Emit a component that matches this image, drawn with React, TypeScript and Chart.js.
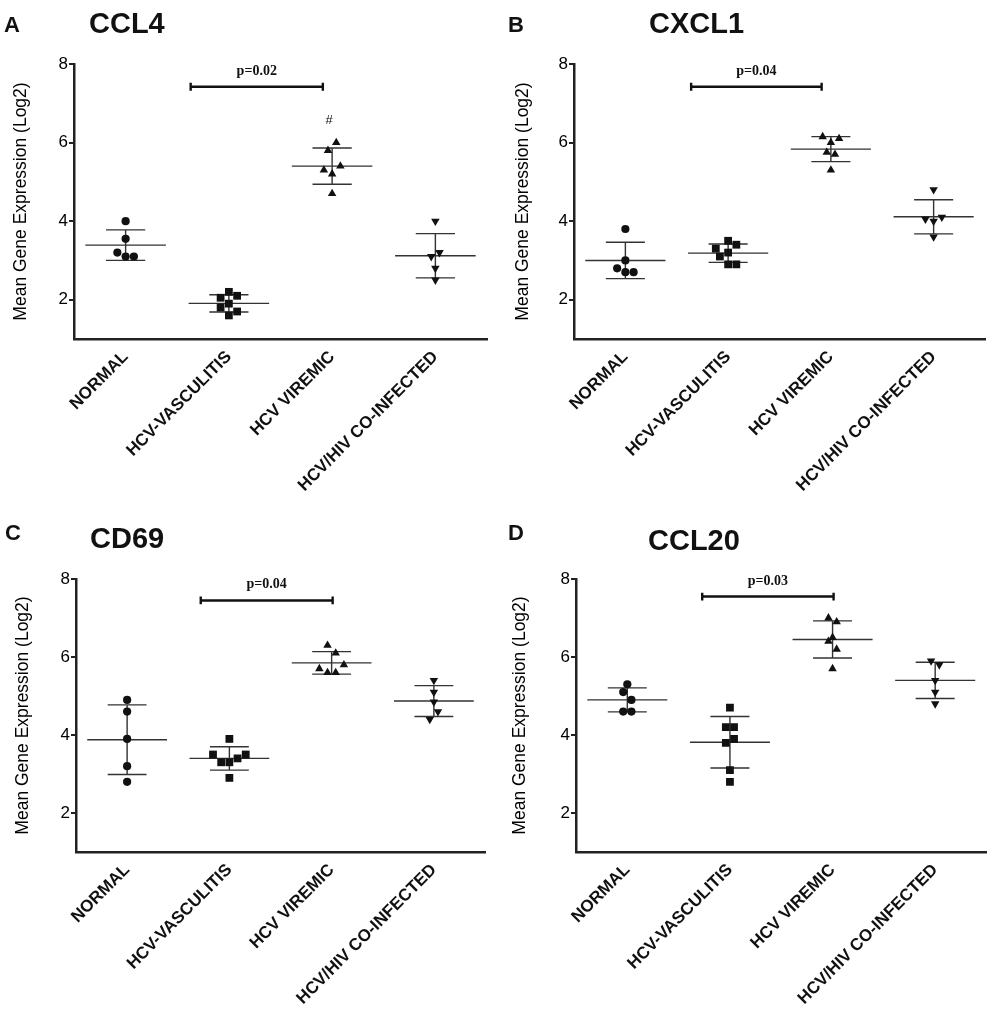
import { useEffect, useRef } from "react"
import { Chart, registerables } from "chart.js"

Chart.register(...registerables)

const categories = ["NORMAL", "HCV-VASCULITIS", "HCV VIREMIC", "HCV/HIV CO-INFECTED"]
const yTicks = [2, 4, 6, 8]

// CCL4
const ccl4Normal = [4.0, 3.55, 3.2, 3.1, 3.1]
const ccl4Vasculitis = [2.2, 2.05, 2.1, 1.9, 1.8, 1.7, 1.6]
const ccl4Viremic = [6.0, 5.8, 5.4, 5.3, 5.2, 4.7]
const ccl4Coinfected = [4.0, 3.2, 3.1, 2.8, 2.5]
const ccl4Jitter = [[0, 0, -1, 0, 1], [0, -1, 1, 0, -1, 1, 0], [0.5, -0.5, 1, -1, 0, 0], [0, 0.5, -0.5, 0, 0]]

// CXCL1
const cxcl1Normal = [3.8, 3.0, 2.8, 2.7, 2.7]
const cxcl1Vasculitis = [3.5, 3.4, 3.3, 3.2, 3.1, 2.9, 2.9]
const cxcl1Viremic = [6.15, 6.1, 6.0, 5.75, 5.7, 5.3]
const cxcl1Coinfected = [4.8, 4.05, 4.0, 4.1, 3.6]
const cxcl1Jitter = [[0, 0, -1, 0, 1], [0, 1, -1.5, 0, -1, 0, 1], [-1, 1, 0, -0.5, 0.5, 0], [0, -1, 0, 1, 0]]

// CD69
const cd69Normal = [4.9, 4.6, 3.9, 3.2, 2.8]
const cd69Vasculitis = [3.9, 3.5, 3.5, 3.4, 3.3, 3.3, 2.9]
const cd69Viremic = [6.3, 6.1, 5.8, 5.7, 5.6, 5.6]
const cd69Coinfected = [5.4, 5.1, 4.85, 4.6, 4.4]
const cd69Jitter = [[0, 0, 0, 0, 0], [0, -2, 2, 1, -1, 0, 0], [-0.5, 0.5, 1.5, -1.5, -0.5, 0.5], [0, 0, 0, 0.5, -0.5]]

// CCL20
const ccl20Normal = [5.3, 5.1, 4.9, 4.6, 4.6]
const ccl20Vasculitis = [4.7, 4.2, 4.2, 3.9, 3.8, 3.1, 2.8]
const ccl20Viremic = [7.0, 6.9, 6.5, 6.4, 6.2, 5.7]
const ccl20Coinfected = [5.9, 5.8, 5.4, 5.1, 4.8]
const ccl20Jitter = [[0, -0.5, 0.5, -0.5, 0.5], [0, -0.5, 0.5, 0.5, -0.5, 0, 0], [-0.5, 0.5, 0, -0.5, 0.5, 0], [-0.5, 0.5, 0, 0, 0]]

// significance brackets (x in category units, y in log2)
const ccl4Bracket = { x1: 0.63, x2: 1.91, y: 7.42, labelY: 7.8, label: "p=0.02" }
const cxcl1Bracket = { x1: 0.64, x2: 1.91, y: 7.42, labelY: 7.82, label: "p=0.04" }
const cd69Bracket = { x1: 0.72, x2: 2.01, y: 7.45, labelY: 7.85, label: "p=0.04" }
const ccl20Bracket = { x1: 0.73, x2: 2.01, y: 7.55, labelY: 7.94, label: "p=0.03" }

const JITTER_STEP = 0.08
const MEAN_HALF = 0.39
const CAP_HALF = 0.19
const INK = "#111"

const markers = [
  { style: "circle", radius: 4.1, rotation: 0 },
  { style: "rect", radius: 5.5, rotation: 0 },
  { style: "triangle", radius: 4.9, rotation: 0 },
  { style: "triangle", radius: 4.9, rotation: 180 },
]

interface Bracket {
  x1: number
  x2: number
  y: number
  labelY: number
  label: string
}

interface PanelProps {
  letter: string
  title: string
  groups: number[][]
  jitter: number[][]
  bracket: Bracket
  hash?: boolean
  left: number
  top: number
  width: number
  height: number
  area: { left: number; top: number; right: number; bottom: number }
  yTitleCenter: number
  letterPos: { left: number; top: number }
  titlePos: { left: number; top: number }
}

function meanSd(values: number[]) {
  const m = values.reduce((a, b) => a + b, 0) / values.length
  const v = values.reduce((a, b) => a + (b - m) * (b - m), 0) / (values.length - 1)
  return { m, s: Math.sqrt(v) }
}

function Panel(p: PanelProps) {
  const chartRef = useRef<HTMLCanvasElement | null>(null)
  const chartInstance = useRef<Chart | null>(null)

  useEffect(() => {
    if (!chartRef.current) return
    if (chartInstance.current) chartInstance.current.destroy()
    const ctx = chartRef.current.getContext("2d")
    if (!ctx) return

    const pointSets = p.groups.map((vals, i) => ({
      data: vals.map((v, k) => ({ x: i + p.jitter[i][k] * JITTER_STEP, y: v })),
      pointStyle: markers[i].style,
      pointRadius: markers[i].radius,
      pointRotation: markers[i].rotation,
      backgroundColor: INK,
      borderColor: INK,
      borderWidth: 0,
      showLine: false,
    }))

    // mean +/- SD lines
    const statLine: { x: number; y: number | null }[] = []
    p.groups.forEach((vals, i) => {
      const { m, s } = meanSd(vals)
      statLine.push(
        { x: i - MEAN_HALF, y: m }, { x: i + MEAN_HALF, y: m }, { x: i, y: null },
        { x: i - CAP_HALF, y: m + s }, { x: i + CAP_HALF, y: m + s }, { x: i, y: null },
        { x: i - CAP_HALF, y: m - s }, { x: i + CAP_HALF, y: m - s }, { x: i, y: null },
        { x: i, y: m - s }, { x: i, y: m + s }, { x: i, y: null },
      )
    })

    const b = p.bracket
    const tick = 0.1
    const bracketLine = [
      { x: b.x1, y: b.y - tick }, { x: b.x1, y: b.y + tick }, { x: b.x1, y: null },
      { x: b.x1, y: b.y }, { x: b.x2, y: b.y }, { x: b.x2, y: null },
      { x: b.x2, y: b.y - tick }, { x: b.x2, y: b.y + tick },
    ]

    const texts = [{ text: b.label, x: (b.x1 + b.x2) / 2, y: b.labelY, font: "bold 14px 'Liberation Serif', 'DejaVu Serif', serif" }]
    if (p.hash) texts.push({ text: "#", x: 1.97, y: 6.56, font: "13px 'Liberation Sans', Arial, sans-serif" })

    const textPlugin = {
      id: "panelText",
      afterDatasetsDraw(chart: Chart) {
        const c = chart.ctx
        const xs = chart.scales.x
        const ys = chart.scales.y
        c.save()
        c.fillStyle = INK
        c.textAlign = "center"
        c.textBaseline = "middle"
        for (const t of texts) {
          c.font = t.font
          c.fillText(t.text, xs.getPixelForValue(t.x), ys.getPixelForValue(t.y))
        }
        c.restore()
      },
    }

    const a = p.area
    chartInstance.current = new Chart(ctx, {
      type: "scatter",
      data: {
        datasets: [
          ...pointSets,
          {
            data: statLine,
            showLine: true,
            spanGaps: false,
            borderColor: "#333",
            borderWidth: 1.4,
            pointRadius: 0,
          },
          {
            data: bracketLine,
            showLine: true,
            spanGaps: false,
            borderColor: INK,
            borderWidth: 2.4,
            pointRadius: 0,
          },
        ] as any,
      },
      options: {
        responsive: false,
        animation: false,
        layout: { padding: { left: 0, top: a.top, right: p.width - a.right, bottom: 0 } },
        plugins: { legend: { display: false }, tooltip: { enabled: false } },
        scales: {
          x: {
            type: "linear",
            min: -0.5,
            max: 3.5,
            afterBuildTicks: (s: any) => {
              s.ticks = categories.map((_, i) => ({ value: i }))
            },
            afterFit: (s: any) => {
              s.height = p.height - a.bottom
            },
            grid: { display: false, drawTicks: false },
            border: { color: "#222", width: 2.5 },
            ticks: {
              autoSkip: false,
              minRotation: 45,
              maxRotation: 45,
              padding: 8,
              color: INK,
              font: { family: "'Liberation Sans', Arial, sans-serif", size: 17, weight: "bold" },
              callback: (v: any) => categories[v as number] ?? "",
            },
          },
          y: {
            min: 1,
            max: 8,
            afterBuildTicks: (s: any) => {
              s.ticks = yTicks.map((v) => ({ value: v }))
            },
            afterFit: (s: any) => {
              s.width = a.left
            },
            grid: { drawOnChartArea: false, drawTicks: true, tickLength: 5, color: "#222", lineWidth: 2 },
            border: { color: "#222", width: 2.5 },
            ticks: {
              padding: 1,
              color: "#000",
              font: { family: "'Liberation Sans', Arial, sans-serif", size: 17 },
            },
            title: {
              display: true,
              text: "Mean Gene Expression (Log2)",
              color: "#000",
              font: { family: "'Liberation Sans', Arial, sans-serif", size: 17.5 },
              padding: { top: p.yTitleCenter - 10.5, bottom: 0 },
            },
          },
        },
      },
      plugins: [textPlugin],
    })

    return () => {
      if (chartInstance.current) {
        chartInstance.current.destroy()
        chartInstance.current = null
      }
    }
  }, [p])

  return (
    <div style={{ position: "absolute", left: p.left, top: p.top, width: p.width, height: p.height }}>
      <canvas ref={chartRef} width={p.width} height={p.height} style={{ width: p.width, height: p.height, display: "block" }} />
      <div
        style={{
          position: "absolute",
          left: p.letterPos.left,
          top: p.letterPos.top,
          font: "bold 22px 'Liberation Sans', Arial, sans-serif",
          lineHeight: "22px",
          color: INK,
        }}
      >
        {p.letter}
      </div>
      <div
        style={{
          position: "absolute",
          left: p.titlePos.left,
          top: p.titlePos.top,
          font: "bold 29px 'Liberation Sans', Arial, sans-serif",
          lineHeight: "29px",
          color: INK,
        }}
      >
        {p.title}
      </div>
    </div>
  )
}

const panelA: PanelProps = {
  letter: "A",
  title: "CCL4",
  groups: [ccl4Normal, ccl4Vasculitis, ccl4Viremic, ccl4Coinfected],
  jitter: ccl4Jitter,
  bracket: ccl4Bracket,
  hash: true,
  left: 0,
  top: 0,
  width: 496,
  height: 515,
  area: { left: 74, top: 64, right: 487, bottom: 339 },
  yTitleCenter: 21,
  letterPos: { left: 4, top: 14 },
  titlePos: { left: 89, top: 9 },
}

const panelB: PanelProps = {
  letter: "B",
  title: "CXCL1",
  groups: [cxcl1Normal, cxcl1Vasculitis, cxcl1Viremic, cxcl1Coinfected],
  jitter: cxcl1Jitter,
  bracket: cxcl1Bracket,
  left: 496,
  top: 0,
  width: 496,
  height: 515,
  area: { left: 78, top: 64, right: 489, bottom: 339 },
  yTitleCenter: 27,
  letterPos: { left: 12, top: 14 },
  titlePos: { left: 153, top: 9 },
}

const panelC: PanelProps = {
  letter: "C",
  title: "CD69",
  groups: [cd69Normal, cd69Vasculitis, cd69Viremic, cd69Coinfected],
  jitter: cd69Jitter,
  bracket: cd69Bracket,
  left: 0,
  top: 515,
  width: 496,
  height: 494,
  area: { left: 76, top: 64, right: 485, bottom: 337 },
  yTitleCenter: 23,
  letterPos: { left: 5, top: 7 },
  titlePos: { left: 90, top: 9 },
}

const panelD: PanelProps = {
  letter: "D",
  title: "CCL20",
  groups: [ccl20Normal, ccl20Vasculitis, ccl20Viremic, ccl20Coinfected],
  jitter: ccl20Jitter,
  bracket: ccl20Bracket,
  left: 496,
  top: 515,
  width: 496,
  height: 494,
  area: { left: 80, top: 64, right: 491, bottom: 337 },
  yTitleCenter: 24,
  letterPos: { left: 12, top: 7 },
  titlePos: { left: 152, top: 11 },
}

export default function App() {
  return (
    <div
      style={{
        position: "absolute",
        left: 0,
        top: 0,
        width: 992,
        height: 1009,
        overflow: "hidden",
        background: "#fff",
      }}
    >
      <Panel {...panelA} />
      <Panel {...panelB} />
      <Panel {...panelC} />
      <Panel {...panelD} />
    </div>
  )
}
